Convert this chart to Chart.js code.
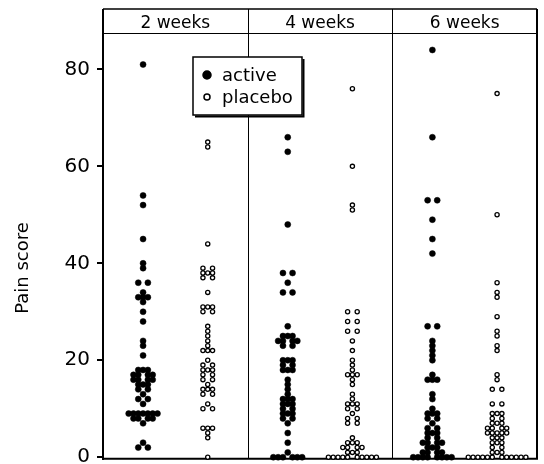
<!DOCTYPE html>
<html>
<head>
<meta charset="utf-8">
<script src="https://cdn.jsdelivr.net/npm/chart.js@4"></script>
<style>
  body { margin: 0; background: #fff; }
  canvas { display: block; }
</style>
</head>
<body>
<canvas id="chart" width="544" height="464"></canvas>
<script>
// DATA
let panels = ["2 weeks", "4 weeks", "6 weeks"];
let yTicks = [0, 20, 40, 60, 80];
let active2wk = [81, 54, 52, 45, 40, 39, 36, 36, 34, 33, 33, 33, 32, 30, 28, 24, 23, 21, 18, 18, 18, 17, 17, 17, 17, 16, 16, 16, 16, 15, 15, 15, 14, 14, 13, 12, 12, 11, 9, 9, 9, 9, 9, 9, 9, 8, 8, 8, 8, 7, 3, 2, 2];
let placebo2wk = [65, 64, 44, 39, 39, 38, 38, 38, 37, 37, 34, 31, 31, 31, 30, 30, 27, 26, 25, 24, 23, 22, 22, 22, 20, 19, 19, 18, 18, 18, 17, 17, 16, 16, 15, 14, 14, 14, 13, 13, 11, 10, 10, 6, 6, 6, 5, 4, 0];
let active4wk = [66, 63, 48, 38, 38, 36, 34, 34, 27, 25, 25, 25, 24, 24, 24, 24, 23, 23, 20, 20, 20, 19, 19, 18, 18, 18, 16, 15, 14, 13, 12, 12, 12, 11, 11, 11, 10, 10, 9, 9, 9, 8, 8, 7, 5, 3, 1, 0, 0, 0, 0, 0, 0];
let placebo4wk = [76, 60, 52, 51, 30, 30, 28, 28, 26, 26, 24, 22, 20, 19, 18, 17, 17, 17, 16, 15, 13, 12, 11, 11, 11, 10, 10, 9, 8, 8, 7, 7, 4, 3, 3, 3, 2, 2, 2, 2, 1, 1, 1, 0, 0, 0, 0, 0, 0, 0, 0, 0, 0];
let active6wk = [84, 66, 53, 53, 49, 45, 42, 27, 27, 24, 23, 22, 21, 20, 17, 16, 16, 16, 13, 12, 10, 9, 9, 9, 8, 8, 7, 6, 6, 5, 5, 5, 4, 4, 3, 3, 3, 3, 2, 2, 2, 1, 1, 1, 1, 0, 0, 0, 0, 0, 0, 0, 0];
let placebo6wk = [75, 50, 36, 34, 33, 29, 26, 25, 23, 22, 17, 16, 14, 14, 11, 11, 9, 9, 9, 8, 8, 7, 7, 7, 6, 6, 6, 6, 5, 5, 5, 5, 5, 4, 4, 4, 3, 3, 3, 2, 2, 1, 1, 1, 0, 0, 0, 0, 0, 0, 0, 0, 0, 0, 0, 0];

// LAYOUT
const plotLeft = 103;
const plotRight = 537;
const plotBottom = 461;
const headerTop = 9;
const slotPx = 4.8;
const activeSide = 0.277;
const placeboSide = 0.724;
const font = "'DejaVu Sans', sans-serif";
const slotX = slotPx / ((plotRight - plotLeft) / panels.length);

// dots with the same score sit side by side, centre left empty for even counts
function dotRows(values, panel, side) {
  let counts = {};
  values.forEach((v) => {
    counts[v] = (counts[v] || 0) + 1;
  });
  let pts = [];
  Object.keys(counts).forEach((k) => {
    let n = counts[k];
    let slots = [];
    if (n % 2) {
      slots.push(0);
      for (let i = 1; i <= (n - 1) / 2; i++) slots.push(i, -i);
    } else {
      for (let i = 1; i <= n / 2; i++) slots.push(i, -i);
    }
    slots.forEach((s) => pts.push({ x: panel + side + s * slotX, y: Number(k) }));
  });
  return pts;
}

let activeData = [active2wk, active4wk, active6wk].flatMap((v, i) => dotRows(v, i, activeSide));
let placeboData = [placebo2wk, placebo4wk, placebo6wk].flatMap((v, i) => dotRows(v, i, placeboSide));

// frame, header strip, axis title, legend
const panelPlugin = {
  id: "panels",
  beforeDatasetsDraw(chart) {
    let c = chart.ctx;
    let area = chart.chartArea;
    let x = chart.scales.x;
    c.save();
    c.strokeStyle = "#000";
    c.lineWidth = 1;
    for (let i = 1; i < panels.length; i++) {
      let px = Math.round(x.getPixelForValue(i)) + 0.5;
      c.beginPath();
      c.moveTo(px, headerTop);
      c.lineTo(px, area.bottom);
      c.stroke();
    }
    c.beginPath();
    c.moveTo(area.left, area.top + 0.5);
    c.lineTo(area.right, area.top + 0.5);
    c.stroke();
    c.lineWidth = 1.5;
    c.beginPath();
    c.moveTo(area.left, headerTop);
    c.lineTo(area.right, headerTop);
    c.stroke();
    c.lineWidth = 2;
    c.beginPath();
    c.moveTo(area.left, headerTop);
    c.lineTo(area.left, area.bottom);
    c.lineTo(area.right, area.bottom);
    c.lineTo(area.right, headerTop);
    c.stroke();
    c.fillStyle = "#000";
    c.font = "17px " + font;
    c.textAlign = "center";
    c.textBaseline = "alphabetic";
    panels.forEach((p, i) => {
      c.fillText(p, x.getPixelForValue(i + 0.5), 28);
    });
    c.translate(23, 268);
    c.rotate(-Math.PI / 2);
    c.font = "18px " + font;
    c.textBaseline = "middle";
    c.fillText("Pain score", 0, 0);
    c.restore();
  },
  afterDatasetsDraw(chart) {
    let c = chart.ctx;
    c.save();
    c.fillStyle = "#fff";
    c.fillRect(193, 57, 109, 58);
    c.strokeStyle = "#000";
    c.lineWidth = 1.5;
    c.strokeRect(193, 57, 109, 58);
    c.lineWidth = 2;
    c.beginPath();
    c.moveTo(303.5, 59);
    c.lineTo(303.5, 116.5);
    c.lineTo(195, 116.5);
    c.stroke();
    c.font = "18px " + font;
    c.textAlign = "left";
    c.textBaseline = "alphabetic";
    chart.data.datasets.forEach((ds, i) => {
      let y = 75 + i * 22;
      c.beginPath();
      c.arc(207, y, ds.legendRadius, 0, Math.PI * 2);
      c.fillStyle = ds.backgroundColor;
      c.fill();
      c.lineWidth = 1.5;
      c.strokeStyle = "#000";
      c.stroke();
      c.fillStyle = "#000";
      c.fillText(ds.label, 222, y + 6);
    });
    c.restore();
  },
};

//CHART
const ctx = document.getElementById("chart");
let myChart = new Chart(ctx, {
  type: "scatter",
  data: {
    datasets: [
      {
        label: "active",
        data: activeData,
        backgroundColor: "#000",
        borderColor: "#000",
        borderWidth: 0.5,
        pointRadius: 3,
        legendRadius: 4,
        clip: false,
      },
      {
        label: "placebo",
        data: placeboData,
        backgroundColor: "#fff",
        borderColor: "#000",
        borderWidth: 1.3,
        pointRadius: 2.1,
        legendRadius: 3,
        clip: false,
      },
    ],
  },
  options: {
    responsive: false,
    animation: false,
    events: [],
    layout: {
      padding: { top: 33, bottom: 464 - plotBottom, right: 544 - plotRight, left: 0 },
    },
    scales: {
      x: {
        type: "linear",
        min: 0,
        max: panels.length,
        display: false,
      },
      y: {
        min: -0.3,
        max: 87.5,
        afterBuildTicks: (axis) => {
          axis.ticks = yTicks.map((v) => ({ value: v }));
        },
        afterFit: (axis) => {
          axis.width = plotLeft;
          axis.paddingTop = 0;
          axis.paddingBottom = 0;
        },
        border: { display: true, color: "#000", width: 2 },
        grid: {
          drawOnChartArea: false,
          drawTicks: true,
          tickLength: 6,
          color: "#000",
          lineWidth: 2,
        },
        ticks: {
          color: "#000",
          padding: 7,
          font: { family: font, size: 20 },
        },
      },
    },
    plugins: {
      legend: { display: false },
      tooltip: { enabled: false },
    },
  },
  plugins: [panelPlugin],
});
</script>
</body>
</html>
